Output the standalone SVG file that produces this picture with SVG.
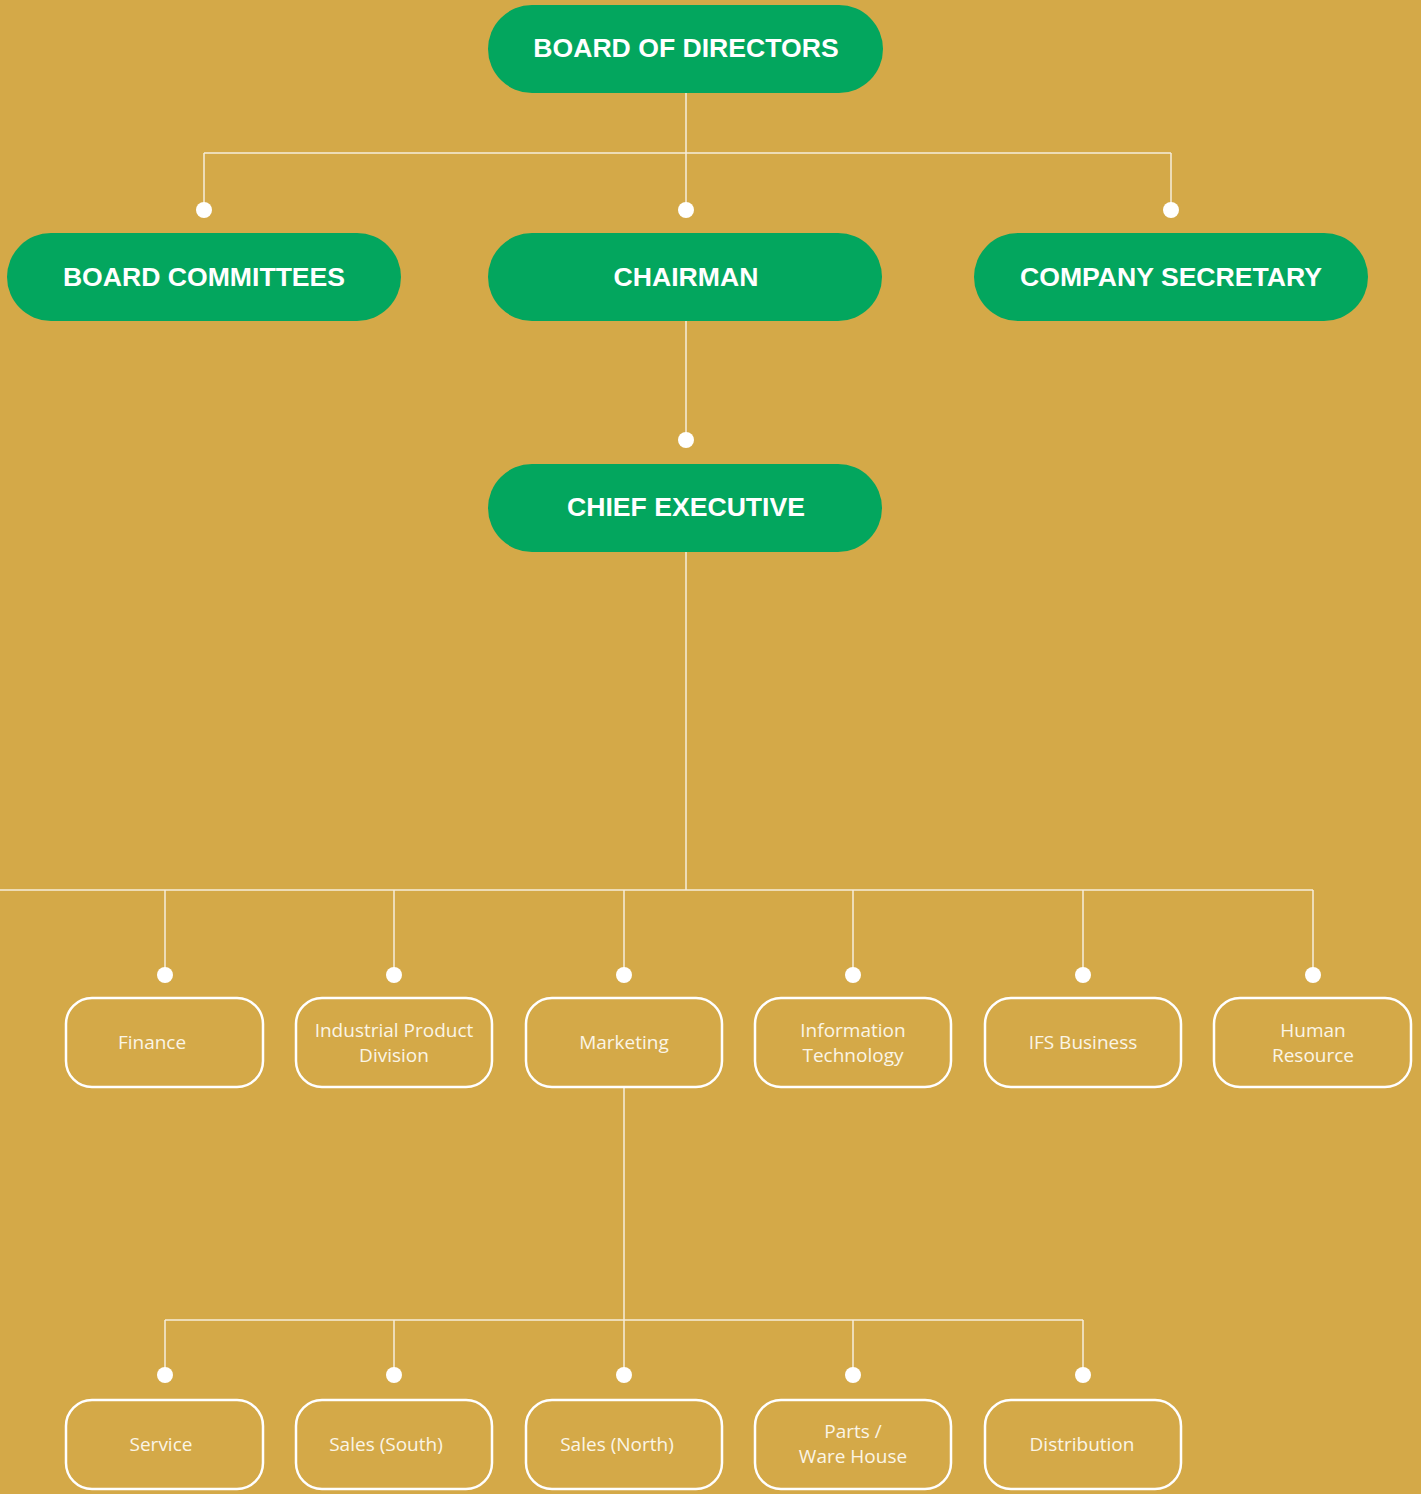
<svg xmlns="http://www.w3.org/2000/svg" width="1421" height="1494" viewBox="0 0 1421 1494">
<style>
.g{fill:#03A65E}
.gt{font-family:"Liberation Sans",Arial,sans-serif;font-weight:bold;font-size:26.6px;fill:#fff;text-anchor:middle}
.b{fill:none;stroke:#fff;stroke-width:2.5}
.bt{font-family:"Open Sans","Noto Sans",sans-serif;font-size:19px;fill:#FBF5E6;text-anchor:middle}
.c line{stroke:#F6EEDB;stroke-width:1.5}
.c circle{fill:#fff}
</style>
<rect width="1421" height="1494" fill="#D4A948"/>
<g class="c" id="connectors">
<line x1="686" y1="93" x2="686" y2="210"/>
<line x1="204" y1="153" x2="1171" y2="153"/>
<line x1="204" y1="153" x2="204" y2="210"/>
<line x1="1171" y1="153" x2="1171" y2="210"/>
<circle cx="204" cy="210" r="8"/><circle cx="686" cy="210" r="8"/><circle cx="1171" cy="210" r="8"/>
<line x1="686" y1="321" x2="686" y2="440"/>
<circle cx="686" cy="440" r="8"/>
<line x1="686" y1="552" x2="686" y2="890"/>
<line x1="0" y1="890" x2="1313" y2="890"/>
<line x1="165" y1="890" x2="165" y2="975"/>
<line x1="394" y1="890" x2="394" y2="975"/>
<line x1="624" y1="890" x2="624" y2="975"/>
<line x1="853" y1="890" x2="853" y2="975"/>
<line x1="1083" y1="890" x2="1083" y2="975"/>
<line x1="1313" y1="890" x2="1313" y2="975"/>
<circle cx="165" cy="975" r="8"/><circle cx="394" cy="975" r="8"/><circle cx="624" cy="975" r="8"/><circle cx="853" cy="975" r="8"/><circle cx="1083" cy="975" r="8"/><circle cx="1313" cy="975" r="8"/>
<line x1="624" y1="1087" x2="624" y2="1375"/>
<line x1="165" y1="1320" x2="1083" y2="1320"/>
<line x1="165" y1="1320" x2="165" y2="1375"/>
<line x1="394" y1="1320" x2="394" y2="1375"/>
<line x1="853" y1="1320" x2="853" y2="1375"/>
<line x1="1083" y1="1320" x2="1083" y2="1375"/>
<circle cx="165" cy="1375" r="8"/><circle cx="394" cy="1375" r="8"/><circle cx="624" cy="1375" r="8"/><circle cx="853" cy="1375" r="8"/><circle cx="1083" cy="1375" r="8"/>
</g>
<g id="board-of-directors"><rect class="g" x="488" y="5" width="395" height="88" rx="44"/><text class="gt" x="686" y="57">BOARD OF DIRECTORS</text></g>
<g id="board-committees"><rect class="g" x="7" y="233" width="394" height="88" rx="44"/><text class="gt" x="204" y="286">BOARD COMMITTEES</text></g>
<g id="chairman"><rect class="g" x="488" y="233" width="394" height="88" rx="44"/><text class="gt" x="686" y="286">CHAIRMAN</text></g>
<g id="company-secretary"><rect class="g" x="974" y="233" width="394" height="88" rx="44"/><text class="gt" x="1171" y="286">COMPANY SECRETARY</text></g>
<g id="chief-executive"><rect class="g" x="488" y="464" width="394" height="88" rx="44"/><text class="gt" x="686" y="516">CHIEF EXECUTIVE</text></g>
<g id="finance"><rect class="b" x="66" y="998" width="197" height="89" rx="26"/><text class="bt" x="152" y="1049">Finance</text></g>
<g id="industrial-product-division"><rect class="b" x="296" y="998" width="196" height="89" rx="26"/><text class="bt" x="394" y="1037">Industrial Product</text><text class="bt" x="394" y="1062">Division</text></g>
<g id="marketing"><rect class="b" x="526" y="998" width="196" height="89" rx="26"/><text class="bt" x="624" y="1049">Marketing</text></g>
<g id="information-technology"><rect class="b" x="755" y="998" width="196" height="89" rx="26"/><text class="bt" x="853" y="1037">Information</text><text class="bt" x="853" y="1062">Technology</text></g>
<g id="ifs-business"><rect class="b" x="985" y="998" width="196" height="89" rx="26"/><text class="bt" x="1083" y="1049">IFS Business</text></g>
<g id="human-resource"><rect class="b" x="1214" y="998" width="197" height="89" rx="26"/><text class="bt" x="1313" y="1037">Human</text><text class="bt" x="1313" y="1062">Resource</text></g>
<g id="service"><rect class="b" x="66" y="1400" width="197" height="89" rx="26"/><text class="bt" x="161" y="1451">Service</text></g>
<g id="sales-south"><rect class="b" x="296" y="1400" width="196" height="89" rx="26"/><text class="bt" x="386" y="1451">Sales (South)</text></g>
<g id="sales-north"><rect class="b" x="526" y="1400" width="196" height="89" rx="26"/><text class="bt" x="617" y="1451">Sales (North)</text></g>
<g id="parts-ware-house"><rect class="b" x="755" y="1400" width="196" height="89" rx="26"/><text class="bt" x="853" y="1438">Parts /</text><text class="bt" x="853" y="1463">Ware House</text></g>
<g id="distribution"><rect class="b" x="985" y="1400" width="196" height="89" rx="26"/><text class="bt" x="1082" y="1451">Distribution</text></g>
</svg>
